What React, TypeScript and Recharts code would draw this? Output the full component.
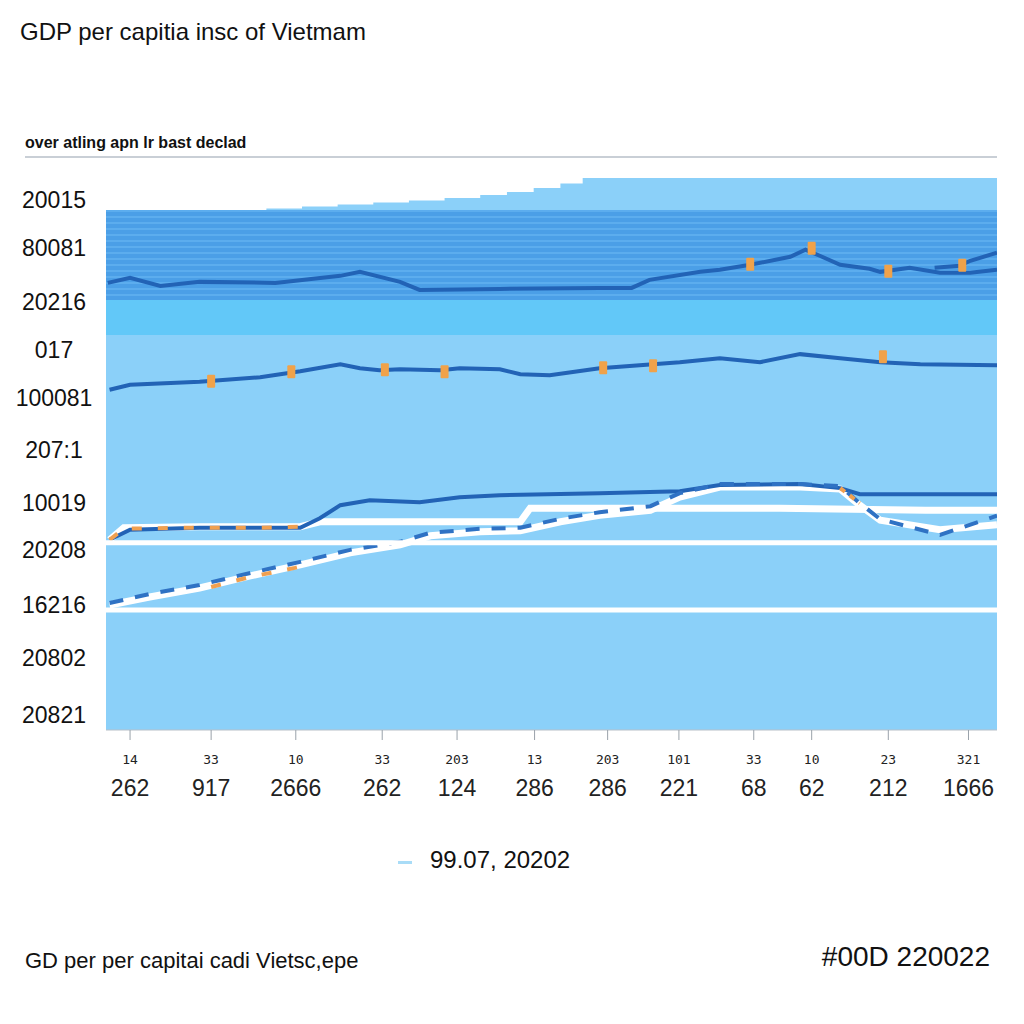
import React from "react";
import {
  ComposedChart,
  Area,
  Line,
  Scatter,
  XAxis,
  YAxis,
  ReferenceLine,
} from "recharts";

// x ticks (0-100 scale) and their two-line labels
const xTicks = [2.7, 11.8, 21.3, 31.0, 39.4, 48.1, 56.3, 64.3, 72.7, 79.2, 87.8, 96.8];
const xTopLabels = ["14", "33", "10", "33", "203", "13", "203", "101", "33", "10", "23", "321"];
const xBottomLabels = ["262", "917", "2666", "262", "124", "286", "286", "221", "68", "62", "212", "1666"];

// y ticks, top to bottom
const yTicks = [105.6, 96.1, 85.3, 75.7, 66.2, 55.8, 45.2, 35.9, 24.9, 14.3, 3.0];
const yLabels = ["20015", "80081", "20216", "017", "100081", "207:1", "10019", "20208", "16216", "20802", "20821"];

// stepped ceiling of the filled area
const ceilingX = [0, 14, 18, 22, 26, 30, 34, 38, 42, 45, 48, 51, 53.5, 100];
const ceilingV = [103.6, 103.6, 103.9, 104.3, 104.7, 105.1, 105.5, 106.0, 106.6, 107.2, 108.0, 108.9, 110, 110];

// bands
const darkBand = [85.7, 103.6];
const cyanBand = [78.7, 85.7];

// top dark line
const topX = [0.2, 2.7, 6.1, 10.5, 19.0, 26.3, 28.5, 33.0, 35.2, 44.2, 55.4, 59.0, 61.0, 66.7, 68.9, 72.3, 76.8, 78.5, 80.1, 82.4, 85.7, 86.9, 90.2, 93.6, 97.0, 100];
const topV = [89.1, 90.1, 88.5, 89.3, 89.1, 90.5, 91.3, 89.3, 87.7, 87.9, 88.1, 88.1, 89.7, 91.3, 91.7, 92.7, 94.3, 95.7, 94.5, 92.7, 91.9, 91.3, 92.1, 91.1, 91.1, 91.7];
const topBranchX = [93.0, 95.8, 97.0, 100];
const topBranchV = [92.1, 92.5, 93.5, 95.1];

// middle dark line
const midX = [0.4, 2.7, 10.5, 17.3, 21.8, 26.3, 28.5, 30.7, 33.0, 37.5, 39.7, 44.2, 46.5, 49.8, 55.4, 59.9, 64.4, 68.9, 73.4, 77.9, 82.4, 86.9, 91.4, 100];
const midV = [67.8, 68.8, 69.4, 70.3, 71.5, 72.9, 72.1, 71.7, 71.9, 71.7, 72.1, 71.9, 70.9, 70.7, 72.1, 72.7, 73.3, 74.1, 73.3, 74.9, 74.1, 73.3, 72.9, 72.7];

// lower dark line
const lowX = [0.4, 2.7, 10.5, 21.8, 24.0, 26.3, 29.6, 35.2, 39.7, 44.2, 55.4, 64.4, 68.9, 77.9, 82.4, 84.6, 100];
const lowV = [37.9, 39.9, 40.3, 40.3, 42.2, 44.8, 45.8, 45.4, 46.4, 46.8, 47.2, 47.6, 48.8, 49.0, 48.2, 47.0, 47.0];

// white plateau line
const plateauX = [0.4, 2.0, 10.5, 21.8, 24.0, 46.5, 47.6, 75.6, 92.0, 100];
const plateauV = [37.9, 40.3, 40.5, 40.5, 41.5, 41.5, 44.2, 44.2, 43.8, 43.8];

// white rising line
const riseX = [0.4, 4.9, 10.5, 16.2, 21.8, 27.4, 33.0, 36.4, 42.0, 46.5, 51.0, 55.4, 61.1, 64.4, 68.9, 77.9, 82.4, 84.6, 86.9, 93.6, 100];
const riseV = [24.9, 26.5, 28.3, 30.7, 32.9, 35.3, 36.9, 38.7, 39.5, 39.7, 41.5, 42.8, 43.8, 46.4, 48.4, 48.4, 48.0, 44.8, 41.8, 39.9, 40.9];

// dashed blue line above the rising one
const dashV = [25.3, 27.1, 28.9, 31.3, 33.5, 35.9, 37.5, 39.3, 40.1, 40.3, 42.1, 43.4, 44.6, 47.2, 49.0, 49.0, 48.6, 45.2, 42.0, 38.9, 42.7];

// orange dashed pieces
const orangeAX = [0.4, 2.0, 8.0, 17.0, 22.0];
const orangeAV = [37.9, 40.1, 40.3, 40.3, 40.5];
const orangeBX = [11.8, 16.2, 21.2, 23.0];
const orangeBV = [28.5, 30.5, 32.3, 33.1];
const orangeCX = [82.4, 84.6];
const orangeCV = [48.2, 45.2];

// orange markers
const markX = [72.3, 79.2, 87.8, 96.1, 11.8, 20.8, 31.3, 38.0, 55.8, 61.4, 87.2];
const markV = [92.7, 95.9, 91.3, 92.5, 69.4, 71.3, 71.7, 71.3, 72.1, 72.5, 74.3];

// white horizontal guides
const guides = [37.3, 23.9];

const pts = (xs: number[], vs: number[]) => xs.map((x, i) => ({ x, v: vs[i] }));

const ceilingData = pts(ceilingX, ceilingV);
const darkData = [0, 100].map((x) => ({ x, r: darkBand }));
const cyanData = [0, 100].map((x) => ({ x, r: cyanBand }));

const YTick = (props: any) => {
  const i = yTicks.indexOf(props.payload.value);
  return (
    <text x={54} y={props.y} dy={8} textAnchor="middle" fontSize={23} fill="#111" fontFamily="Liberation Sans">
      {yLabels[i]}
    </text>
  );
};

const XTick = (props: any) => {
  const i = xTicks.indexOf(props.payload.value);
  return (
    <g>
      <text x={props.x} y={764} textAnchor="middle" fontSize={13} fill="#222" fontFamily="DejaVu Sans Mono">
        {xTopLabels[i]}
      </text>
      <text x={props.x} y={796} textAnchor="middle" fontSize={23} fill="#222" fontFamily="Liberation Sans">
        {xBottomLabels[i]}
      </text>
    </g>
  );
};

const Marker = (props: any) => (
  <rect x={props.cx - 4} y={props.cy - 7} width={8} height={13} fill="#f0a24a" rx={1} />
);

export default function App() {
  const base = "#8bd0f9";
  const line = "#2263b6";
  return (
    <div style={{ position: "absolute", left: 0, top: 0, width: 1024, height: 1024, background: "#fff", fontFamily: "Liberation Sans" }}>
      <div style={{ position: "absolute", left: 20, top: 18, fontSize: 24, color: "#111" }}>
        GDP per capitia insc of Vietmam
      </div>
      <div style={{ position: "absolute", left: 25, top: 134, fontSize: 16, color: "#111", fontWeight: 600 }}>
        over atling apn lr bast declad
      </div>
      <div style={{ position: "absolute", left: 25, top: 156, width: 972, height: 2, background: "#c9cfd6" }} />

      <div style={{ position: "absolute", left: 0, top: 0 }}>
        <ComposedChart width={1024} height={830} margin={{ top: 178, right: 27, left: 16, bottom: 0 }}>
          <defs>
            <pattern id="stripes" patternUnits="userSpaceOnUse" width={20} height={6}>
              <rect width={20} height={6} fill="#4b9fe7" />
              <rect width={20} height={2} fill="#5cadee" />
            </pattern>
          </defs>
          <XAxis
            type="number"
            dataKey="x"
            domain={[0, 100]}
            ticks={xTicks}
            tick={<XTick />}
            height={100}
            allowDataOverflow
            axisLine={{ stroke: "#b8c0c8" }}
            tickLine={{ stroke: "#9aa2aa" }}
            tickSize={10}
            interval={0}
          />
          <YAxis
            type="number"
            domain={[0, 110]}
            ticks={yTicks}
            tick={<YTick />}
            width={90}
            axisLine={false}
            tickLine={false}
            allowDataOverflow
            interval={0}
          />
          <Area data={ceilingData} dataKey="v" type="stepAfter" fill={base} fillOpacity={1} stroke="none" isAnimationActive={false} />
          <Area data={darkData} dataKey="r" type="linear" fill="url(#stripes)" fillOpacity={1} stroke="none" isAnimationActive={false} />
          <Area data={cyanData} dataKey="r" type="linear" fill="#62c8f8" fillOpacity={1} stroke="none" isAnimationActive={false} />

          <Line data={pts(plateauX, plateauV)} dataKey="v" stroke="#ffffff" strokeWidth={7} dot={false} isAnimationActive={false} />
          <Line data={pts(riseX, riseV)} dataKey="v" stroke="#ffffff" strokeWidth={7} dot={false} isAnimationActive={false} />
          <Line data={pts(lowX, lowV)} dataKey="v" stroke={line} strokeWidth={4} dot={false} isAnimationActive={false} />
          <Line data={pts(riseX, dashV)} dataKey="v" stroke="#2f72c4" strokeWidth={4} strokeDasharray="14 12" dot={false} isAnimationActive={false} />
          <Line data={pts(orangeAX, orangeAV)} dataKey="v" stroke="#f0a050" strokeWidth={4} strokeDasharray="10 16" dot={false} isAnimationActive={false} />
          <Line data={pts(orangeBX, orangeBV)} dataKey="v" stroke="#f0a050" strokeWidth={4} strokeDasharray="10 16" dot={false} isAnimationActive={false} />
          <Line data={pts(orangeCX, orangeCV)} dataKey="v" stroke="#f0a050" strokeWidth={4} strokeDasharray="6 6" dot={false} isAnimationActive={false} />
          <Line data={pts(topX, topV)} dataKey="v" stroke={line} strokeWidth={4} dot={false} isAnimationActive={false} />
          <Line data={pts(topBranchX, topBranchV)} dataKey="v" stroke={line} strokeWidth={4} dot={false} isAnimationActive={false} />
          <Line data={pts(midX, midV)} dataKey="v" stroke={line} strokeWidth={4} dot={false} isAnimationActive={false} />
          <Scatter data={pts(markX, markV)} dataKey="v" shape={<Marker />} isAnimationActive={false} />
          {guides.map((g) => (
            <ReferenceLine key={g} y={g} stroke="#ffffff" strokeWidth={5} />
          ))}
        </ComposedChart>
      </div>

      <div style={{ position: "absolute", left: 398, top: 861, width: 14, height: 3, background: "#a9dcf7" }} />
      <div style={{ position: "absolute", left: 430, top: 846, fontSize: 24, color: "#111" }}>99.07, 20202</div>

      <div style={{ position: "absolute", left: 25, top: 948, fontSize: 22, color: "#111" }}>
        GD  per per capitai cadi Vietsc,epe
      </div>
      <div style={{ position: "absolute", right: 34, top: 941, fontSize: 28, color: "#111" }}>#00D 220022</div>
    </div>
  );
}
